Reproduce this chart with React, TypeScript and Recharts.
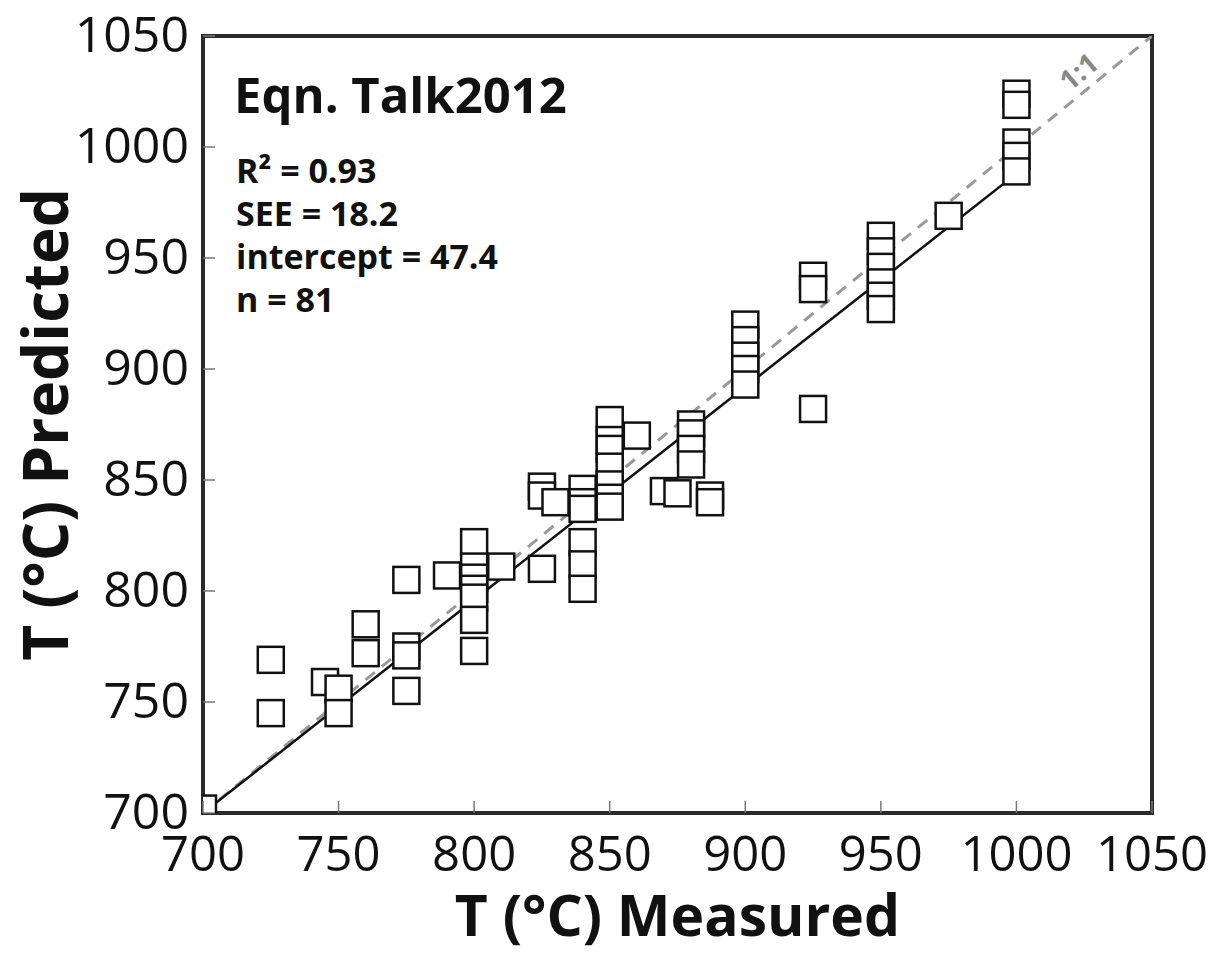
import { ReferenceArea, Scatter, ScatterChart, XAxis, YAxis } from "recharts";

const measured = [
  700, 725, 725, 745, 750, 750, 760, 760, 775, 775, 775, 775, 790,
  800, 800, 800, 800, 800, 800, 800, 810, 825, 825, 825, 830,
  840, 840, 840, 840, 840, 840, 850, 850, 850, 850, 850, 850, 850,
  860, 870, 875, 880, 880, 880, 880, 887, 887,
  900, 900, 900, 900, 900, 925, 925, 925,
  950, 950, 950, 950, 950, 950, 975, 1000, 1000, 1000, 1000, 1000,
];
const predicted = [
  702, 769, 745, 759, 756, 745, 785, 772, 805, 775, 771, 755, 807,
  822, 811, 806, 801, 797, 787, 773, 811, 847, 843, 810, 840,
  846, 840, 837, 822, 812, 801, 877, 868, 864, 856, 848, 842, 838,
  870, 845, 844, 875, 871, 864, 857, 843, 840,
  920, 913, 906, 900, 893, 942, 936, 882,
  960, 953, 946, 939, 933, 927, 969, 1024, 1019, 1002, 996, 989,
];

const fitX = [700, 1000];
const fitY = [700, 988];
const oneToOneX = [700, 1050];
const oneToOneY = [700, 1050];

const axisTicks = [700, 750, 800, 850, 900, 950, 1000, 1050];
const stats = ["R² = 0.93", "SEE = 18.2", "intercept = 47.4", "n = 81"];

const points = measured.map((x, i) => ({ x, y: predicted[i] }));
const fitLine = fitX.map((x, i) => ({ x, y: fitY[i] }));
const oneToOne = oneToOneX.map((x, i) => ({ x, y: oneToOneY[i] }));

const font = "'Open Sans', 'Noto Sans', sans-serif";

const XTick = ({ x, y, payload }: any) => (
  <g>
    <line x1={x} x2={x} y1={y} y2={y - 12} stroke="#777" strokeWidth={1.5} />
    <text x={x} y={y + 58} textAnchor="middle" fontSize={49} fontFamily={font} fill="#111">
      {payload.value}
    </text>
  </g>
);

const YTick = ({ x, y, payload }: any) => (
  <g>
    <line x1={x} x2={x + 12} y1={y} y2={y} stroke="#777" strokeWidth={1.5} />
    <text x={x - 14} y={y + 16} textAnchor="end" fontSize={50} fontFamily={font} fill="#111">
      {payload.value}
    </text>
  </g>
);

const XTitle = ({ viewBox }: any) => {
  const cx = viewBox.x + viewBox.width / 2;
  return (
    <text x={cx} y={viewBox.y + 123} textAnchor="middle" fontSize={57} fontWeight={700} fontFamily={font} fill="#111">
      T (°C) Measured
    </text>
  );
};

const YTitle = ({ viewBox }: any) => {
  const cx = viewBox.x + viewBox.width - 135;
  const cy = viewBox.y + viewBox.height / 2;
  return (
    <text
      x={cx}
      y={cy}
      transform={`rotate(-90 ${cx} ${cy})`}
      textAnchor="middle"
      fontSize={62}
      fontWeight={700}
      fontFamily={font}
      fill="#111"
    >
      T (°C) Predicted
    </text>
  );
};

const Box = ({ cx, cy }: any) => (
  <rect x={cx - 13} y={cy - 13} width={26} height={26} fill="#fff" stroke="#111" strokeWidth={2.5} />
);

const noDot = () => <g />;

export default function App() {
  return (
    <div style={{ position: "absolute", left: 0, top: 0, width: 1213, height: 953, background: "#fff" }}>
      <ScatterChart width={1213} height={953} margin={{ top: 36, right: 61, bottom: 0, left: 0 }}>
        <XAxis
          type="number"
          dataKey="x"
          domain={[700, 1050]}
          ticks={axisTicks}
          allowDataOverflow
          height={140}
          axisLine={false}
          tickLine={false}
          tickSize={0}
          tickMargin={0}
          tick={<XTick />}
          interval={0}
          label={<XTitle />}
        />
        <YAxis
          type="number"
          dataKey="y"
          domain={[700, 1050]}
          ticks={axisTicks}
          allowDataOverflow
          width={203}
          axisLine={false}
          tickLine={false}
          tickSize={0}
          tickMargin={0}
          tick={<YTick />}
          interval={0}
          label={<YTitle />}
        />
        <ReferenceArea x1={700} x2={1050} y1={700} y2={1050} fill="none" stroke="#2a2a2a" strokeWidth={4} />
        <Scatter
          data={oneToOne}
          line={{ stroke: "#999", strokeWidth: 3, strokeDasharray: "12 9" }}
          shape={noDot}
          isAnimationActive={false}
        />
        <Scatter data={fitLine} line={{ stroke: "#111", strokeWidth: 2.5 }} shape={noDot} isAnimationActive={false} />
        <Scatter data={points} shape={<Box />} isAnimationActive={false} />
      </ScatterChart>

      <div
        style={{
          position: "absolute",
          left: 234,
          top: 68,
          fontFamily: font,
          fontWeight: 700,
          fontSize: 49,
          color: "#111",
          lineHeight: "52px",
          whiteSpace: "nowrap",
        }}
      >
        Eqn. Talk2012
      </div>
      <div
        style={{
          position: "absolute",
          left: 236,
          top: 149,
          fontFamily: font,
          fontWeight: 700,
          fontSize: 34,
          color: "#111",
          lineHeight: "43px",
          whiteSpace: "nowrap",
        }}
      >
        {stats.map((s) => (
          <div key={s}>{s}</div>
        ))}
      </div>
      <div
        style={{
          position: "absolute",
          left: 1058,
          top: 52,
          fontFamily: font,
          fontWeight: 700,
          fontSize: 28,
          color: "#888",
          transform: "rotate(-40deg)",
          whiteSpace: "nowrap",
        }}
      >
        1:1
      </div>
    </div>
  );
}
